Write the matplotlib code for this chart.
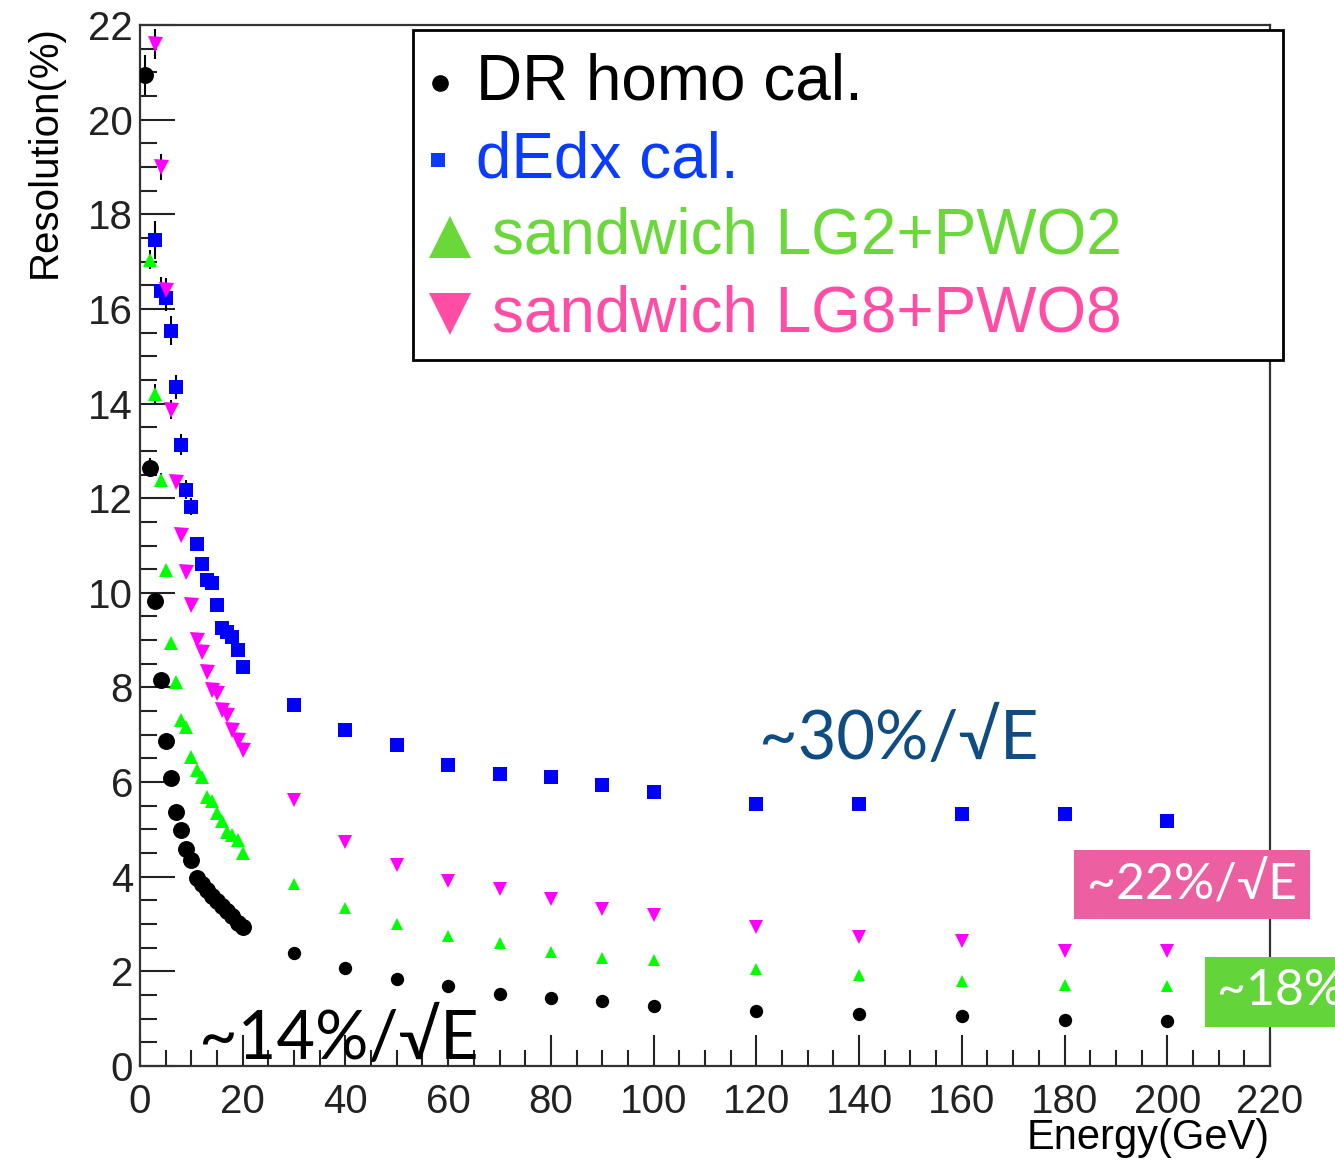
import numpy as np
import matplotlib
matplotlib.use("Agg")
import matplotlib.pyplot as plt
from matplotlib.lines import Line2D
from matplotlib.patches import Rectangle
from matplotlib.ticker import MultipleLocator

# beam energies (GeV)
e_low = list(range(1, 21))
e_high = [30, 40, 50, 60, 70, 80, 90, 100, 120, 140, 160, 180, 200]

# DR homogeneous calorimeter
dr_low = [20.95, 12.64, 9.83, 8.16, 6.87, 6.09, 5.37, 4.99, 4.59, 4.36,
          3.97, 3.85, 3.72, 3.60, 3.49, 3.38, 3.28, 3.18, 3.02, 2.93]
dr_low_err = [0.42, 0.20, 0.10, 0.08, 0.08, 0.06, 0.06, 0.05, 0.05, 0.05,
              0.04, 0.04, 0.04, 0.04, 0.04, 0.03, 0.03, 0.03, 0.03, 0.03]
dr_high = [2.39, 2.07, 1.84, 1.69, 1.52, 1.44, 1.37, 1.27, 1.16, 1.10, 1.06, 0.97, 0.95]

# dEdx calorimeter (starts at 3 GeV)
de_low_e = list(range(3, 21))
de_low = [17.46, 16.38, 16.24, 15.54, 14.35, 13.13, 12.18, 11.82, 11.04, 10.61,
          10.27, 10.21, 9.75, 9.26, 9.18, 9.07, 8.80, 8.44]
de_low_err = [0.40, 0.30, 0.28, 0.30, 0.25, 0.22, 0.20, 0.18, 0.15, 0.15,
              0.12, 0.12, 0.15, 0.10, 0.10, 0.10, 0.12, 0.10]
de_high = [7.63, 7.10, 6.79, 6.36, 6.17, 6.11, 5.94, 5.79, 5.54, 5.54, 5.33, 5.33, 5.18]

# sandwich LG2+PWO2 (starts at 2 GeV)
s2_low_e = list(range(2, 21))
s2_low = [17.04, 14.21, 12.39, 10.49, 8.94, 8.12, 7.32, 7.17, 6.53, 6.26,
          6.11, 5.69, 5.60, 5.35, 5.18, 4.95, 4.88, 4.78, 4.50]
s2_low_err = [0.20, 0.20, 0.15, 0.08, 0.06, 0.05, 0.05, 0.05, 0.04, 0.04,
              0.04, 0.04, 0.03, 0.03, 0.03, 0.03, 0.03, 0.03, 0.03]
s2_high = [3.85, 3.34, 3.00, 2.75, 2.60, 2.41, 2.28, 2.24, 2.05, 1.92, 1.80, 1.71, 1.69]

# sandwich LG8+PWO8 (starts at 3 GeV)
s8_low_e = list(range(3, 21))
s8_low = [21.60, 19.00, 16.40, 13.87, 12.35, 11.23, 10.44, 9.75, 9.00, 8.75,
          8.33, 7.95, 7.89, 7.53, 7.42, 7.10, 6.90, 6.68]
s8_low_err = [0.32, 0.28, 0.25, 0.20, 0.10, 0.06, 0.05, 0.05, 0.05, 0.04,
              0.04, 0.04, 0.04, 0.04, 0.03, 0.03, 0.03, 0.03]
s8_high = [5.62, 4.74, 4.25, 3.91, 3.74, 3.53, 3.32, 3.19, 2.94, 2.73, 2.64, 2.43, 2.43]

W, H = 1335, 1161
plt.rcParams['font.family'] = ['Liberation Sans', 'DejaVu Sans']
fig = plt.figure(figsize=(W / 100, H / 100), dpi=100)
ax = fig.add_axes([140 / W, 95 / H, 1130 / W, 1041 / H])


def fx(px):
    return px / W


def fy(py):
    return 1 - py / H


# (low-E markersize, high-E markersize, marker, colour)
series = [
    (e_low, dr_low, dr_low_err, dr_high, 'o', '#000000', 12.2, 9.6),
    (de_low_e, de_low, de_low_err, de_high, 's', '#0000ff', 10.0, 9.4),
    (s2_low_e, s2_low, s2_low_err, s2_high, '^', '#00ff00', 9.6, 8.8),
    (s8_low_e, s8_low, s8_low_err, s8_high, 'v', '#ff00ff', 10.8, 9.4),
]
for xl, yl, el, yh, m, c, ms_l, ms_h in series:
    ax.errorbar(xl, yl, yerr=el, fmt=m, color=c, ms=ms_l, mew=0,
                ecolor='black', elinewidth=1.5, capsize=4, capthick=1.5, zorder=3)
    ax.plot(e_high, yh, m, color=c, ms=ms_h, mew=0, zorder=3)

ax.set_xlim(0, 220)
ax.set_ylim(0, 22)
ax.xaxis.set_major_locator(MultipleLocator(20))
ax.xaxis.set_minor_locator(MultipleLocator(5))
ax.yaxis.set_major_locator(MultipleLocator(2))
ax.yaxis.set_minor_locator(MultipleLocator(0.5))
ax.tick_params(which='both', direction='in', top=False, right=False,
               labelsize=29, colors='#222222', width=1.5)
ax.tick_params(axis='x', which='major', length=22, pad=12)
ax.tick_params(axis='x', which='minor', length=11.5)
ax.tick_params(axis='y', which='major', length=25, pad=5)
ax.tick_params(axis='y', which='minor', length=12.5)
for sp in ax.spines.values():
    sp.set_linewidth(1.6)
    sp.set_color('#333333')

fig.text(fx(1270), fy(1138), 'Energy(GeV)', ha='right', va='center', fontsize=30)
fig.text(fx(45), fy(25), 'Resolution(%)', ha='center', va='top', rotation=90, fontsize=29)

# resolution annotations
light = ['Lato', 'DejaVu Sans']
ax.text(120.5, 6.9, '~30%/\u221aE', color='#0f4c81', fontsize=48, family=light,
        va='center', ha='left', zorder=5)
ax.text(11.5, 0.15, '~14%/\u221aE', color='black', fontsize=48, family=light,
        va='baseline', ha='left', zorder=5)

fig.add_artist(Rectangle((fx(1074), fy(919)), (1310 - 1074) / W, 69 / H,
                         transform=fig.transFigure, color='#ec5fa0', lw=0, zorder=6))
fig.text(fx(1192), fy(885), '~22%/\u221aE', color='white', fontsize=36, family=light,
         ha='center', va='center', zorder=7)
fig.add_artist(Rectangle((fx(1205), fy(1027)), (1340 - 1205) / W, 70 / H,
                         transform=fig.transFigure, color='#63d43a', lw=0, zorder=6))
fig.text(fx(1217), fy(992), '~18%/\u221aE', color='white', fontsize=36, family=light,
         ha='left', va='center', zorder=7)

# legend box
fig.add_artist(Rectangle((fx(413), fy(360)), (1283 - 413) / W, 330 / H,
                         transform=fig.transFigure, facecolor='white',
                         edgecolor='black', lw=2, zorder=8))
legend_rows = [
    ('DR homo cal.', '#000000', 'o', 12, 440, 476, 83),
    ('dEdx cal.', '#0a3cff', 's', 10.5, 438, 476, 160),
    ('sandwich LG2+PWO2', '#6bd83a', '^', 30, 450, 492, 237),
    ('sandwich LG8+PWO8', '#ff4da6', 'v', 30, 450, 492, 314),
]
for label, c, m, ms, mx, tx, ty in legend_rows:
    fig.add_artist(Line2D([fx(mx)], [fy(ty)], marker=m, color=c, ms=ms, mew=0,
                          transform=fig.transFigure, zorder=9))
    fig.text(fx(tx), fy(ty), label, color=c, fontsize=46, ha='left', va='center', zorder=9)

fig.savefig('out.png', dpi=100)
